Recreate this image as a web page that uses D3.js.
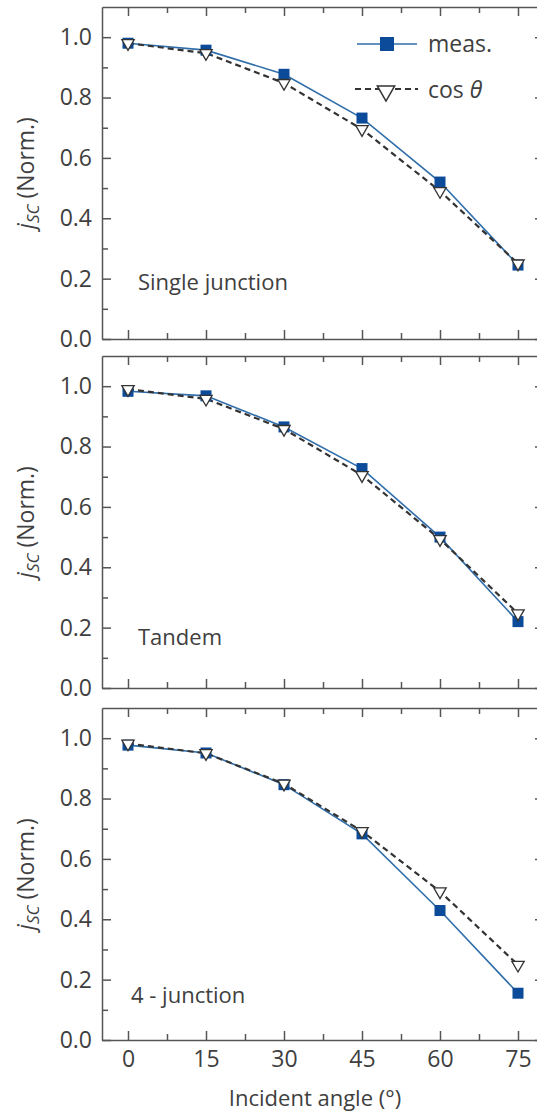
<!DOCTYPE html>
<html>
<head>
<meta charset="utf-8">
<script src="https://cdn.jsdelivr.net/npm/d3@7"></script>
<style>
  body { margin: 0; background: #fff; }
  svg { display: block; }
  text { font-family: "Open Sans", "Noto Sans", sans-serif; fill: #404040; }
</style>
</head>
<body>
<div id="chart"></div>
<script>
var width = 537, height = 1113;

// incident angles (deg)
var angles = [0, 15, 30, 45, 60, 75];
var xTicks = [0, 15, 30, 45, 60, 75];
var xMinor = [7.5, 22.5, 37.5, 52.5, 67.5];
var yTicks = [0.0, 0.2, 0.4, 0.6, 0.8, 1.0];
var yMinor = [0.1, 0.3, 0.5, 0.7, 0.9];

var panelNames = ["Single junction", "Tandem", "4 - junction"];

// normalised short-circuit current
var measSingle = [0.98, 0.957, 0.877, 0.732, 0.52, 0.245];
var cosSingle  = [0.98, 0.947, 0.848, 0.695, 0.49, 0.25];
var measTandem = [0.983, 0.968, 0.865, 0.727, 0.50, 0.22];
var cosTandem  = [0.99, 0.958, 0.858, 0.705, 0.493, 0.247];
var measFour   = [0.977, 0.951, 0.846, 0.683, 0.429, 0.155];
var cosFour    = [0.982, 0.95, 0.849, 0.692, 0.492, 0.249];

var measSets = [measSingle, measTandem, measFour];
var cosSets  = [cosSingle, cosTandem, cosFour];

var panelTop = [7, 356, 708];
var panelH = 332;
var tagY = [0.19, 0.17, 0.15];

var blue = "#0c4b99", lineBlue = "#2f6eaa", ink = "#333";

var svg = d3.select("#chart").append("svg")
  .attr("width", width)
  .attr("height", height);

var x = d3.scaleLinear().domain([-5, 80]).range([102, 544]);

var tri = d3.symbol().type(d3.symbolTriangle).size(66);

panelNames.forEach(function(name, i) {
  var top = panelTop[i], bottom = top + panelH;
  var y = d3.scaleLinear().domain([0, 1.1]).range([bottom, top]);
  var g = svg.append("g");

  // frame with inward ticks on all four sides
  g.append("g").attr("transform", "translate(0," + bottom + ")")
    .call(d3.axisBottom(x).tickValues(xTicks).tickSize(-9).tickSizeOuter(0)
      .tickPadding(11).tickFormat(i == 2 ? d3.format("d") : ""))
    .selectAll("text").style("font-size", "23px").attr("fill", "#404040");
  g.append("g").attr("transform", "translate(0," + bottom + ")")
    .call(d3.axisBottom(x).tickValues(xMinor).tickSize(-6).tickSizeOuter(0).tickFormat(""))
    .select(".domain").remove();
  g.append("g").attr("transform", "translate(0," + top + ")")
    .call(d3.axisTop(x).tickValues(xTicks).tickSize(-9).tickSizeOuter(0).tickFormat(""));
  g.append("g").attr("transform", "translate(0," + top + ")")
    .call(d3.axisTop(x).tickValues(xMinor).tickSize(-6).tickSizeOuter(0).tickFormat(""))
    .select(".domain").remove();

  g.append("g").attr("transform", "translate(" + x(-5) + ",0)")
    .call(d3.axisLeft(y).tickValues(yTicks).tickSize(-9).tickSizeOuter(0)
      .tickPadding(10).tickFormat(d3.format(".1f")))
    .selectAll("text").style("font-size", "23px").attr("fill", "#404040");
  g.append("g").attr("transform", "translate(" + x(-5) + ",0)")
    .call(d3.axisLeft(y).tickValues(yMinor).tickSize(-6).tickSizeOuter(0).tickFormat(""))
    .select(".domain").remove();
  g.append("g").attr("transform", "translate(" + x(80) + ",0)")
    .call(d3.axisRight(y).tickValues(yTicks).tickSize(-9).tickSizeOuter(0).tickFormat(""));

  g.selectAll(".domain").attr("stroke", "#555").attr("stroke-width", 1.5);
  g.selectAll(".tick line").attr("stroke", "#555").attr("stroke-width", 1.5);

  // y title
  var yt = g.append("text")
    .attr("transform", "translate(34," + ((top + bottom) / 2) + ") rotate(-90)")
    .attr("text-anchor", "middle")
    .style("font-size", "23px");
  yt.append("tspan").style("font-style", "italic").text("j");
  yt.append("tspan").style("font-style", "italic").style("font-size", "17px")
    .attr("dy", 5).text("SC");
  yt.append("tspan").attr("dy", -5).text(" (Norm.)");

  // panel tag
  g.append("text")
    .attr("x", i == 2 ? 131 : 138)
    .attr("y", y(tagY[i]) + 8)
    .style("font-size", "22px")
    .text(name);

  var pts = angles.map(function(a, k) { return { a: a, m: measSets[i][k], c: cosSets[i][k] }; });

  var line = function(key) {
    return d3.line().x(function(d) { return x(d.a); }).y(function(d) { return y(d[key]); });
  };

  g.append("path").datum(pts)
    .attr("d", line("m"))
    .attr("fill", "none").attr("stroke", lineBlue).attr("stroke-width", 1.6);
  g.append("path").datum(pts)
    .attr("d", line("c"))
    .attr("fill", "none").attr("stroke", ink).attr("stroke-width", 2.2)
    .attr("stroke-dasharray", "6,4");

  g.selectAll(".sq").data(pts).enter().append("rect")
    .attr("x", function(d) { return x(d.a) - 5.5; })
    .attr("y", function(d) { return y(d.m) - 5.5; })
    .attr("width", 11).attr("height", 11)
    .attr("fill", blue);

  g.selectAll(".tri").data(pts).enter().append("path")
    .attr("d", tri)
    .attr("transform", function(d) { return "translate(" + x(d.a) + "," + y(d.c) + ") rotate(180)"; })
    .attr("fill", "#fff").attr("stroke", ink).attr("stroke-width", 1.3);

  if (i == 0) {
    // legend
    var lg = g.append("g");
    lg.append("line").attr("x1", 357).attr("x2", 417).attr("y1", 44).attr("y2", 44)
      .attr("stroke", lineBlue).attr("stroke-width", 1.6);
    lg.append("rect").attr("x", 380).attr("y", 37).attr("width", 14).attr("height", 14)
      .attr("fill", blue);
    lg.append("text").attr("x", 428).attr("y", 52).style("font-size", "23px").text("meas.");

    lg.append("line").attr("x1", 355).attr("x2", 418).attr("y1", 89).attr("y2", 89)
      .attr("stroke", ink).attr("stroke-width", 2.2).attr("stroke-dasharray", "6,4");
    lg.append("path").attr("d", d3.symbol().type(d3.symbolTriangle).size(130))
      .attr("transform", "translate(386,91) rotate(180)")
      .attr("fill", "#fff").attr("stroke", ink).attr("stroke-width", 1.5);
    var ct = lg.append("text").attr("x", 428).attr("y", 98).style("font-size", "23px");
    ct.append("tspan").text("cos ");
    ct.append("tspan").style("font-style", "italic").text("θ");
  }
});

// x title
svg.append("text")
  .attr("x", 315).attr("y", 1106)
  .attr("text-anchor", "middle")
  .style("font-size", "22px")
  .text("Incident angle (°)");
</script>
</body>
</html>
